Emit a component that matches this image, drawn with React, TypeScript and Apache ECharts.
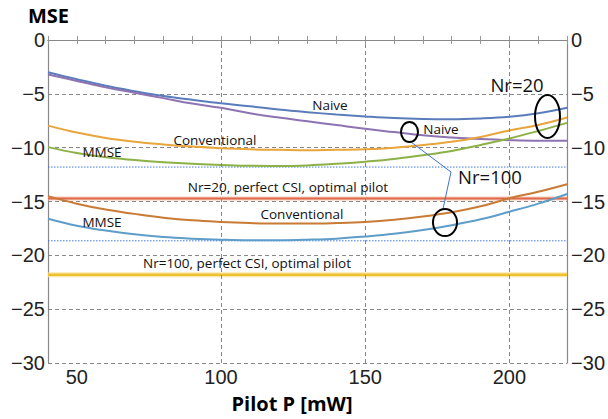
import React, { useEffect, useRef } from "react";
import * as echarts from "echarts";

// Pilot power grid [mW]
const pilotP = [40, 50, 60, 70, 80, 90, 100, 110, 120, 130, 140, 150, 160, 170, 180, 190, 200, 210, 220];

// MSE curves [dB]
const naiveNr20 = [-3.0, -3.65, -4.25, -4.75, -5.2, -5.55, -5.88, -6.15, -6.45, -6.7, -6.92, -7.1, -7.25, -7.33, -7.35, -7.28, -7.12, -6.8, -6.3];
const naiveNr100 = [-3.2, -3.8, -4.4, -4.9, -5.4, -5.9, -6.3, -6.8, -7.2, -7.55, -7.9, -8.25, -8.55, -8.85, -9.05, -9.2, -9.3, -9.35, -9.35];
const convNr20 = [-7.95, -8.6, -9.1, -9.45, -9.7, -9.9, -10.05, -10.15, -10.2, -10.25, -10.2, -10.15, -10.0, -9.75, -9.45, -9.0, -8.4, -7.9, -7.2];
const mmseNr20 = [-9.95, -10.5, -10.9, -11.15, -11.35, -11.5, -11.6, -11.68, -11.7, -11.65, -11.5, -11.3, -11.05, -10.7, -10.3, -9.75, -9.15, -8.45, -7.7];
const convNr100 = [-14.5, -15.2, -15.75, -16.15, -16.5, -16.75, -16.9, -17.0, -17.05, -17.05, -17.0, -16.9, -16.7, -16.4, -16.0, -15.45, -14.7, -14.1, -13.4];
const mmseNr100 = [-16.6, -17.25, -17.7, -18.05, -18.3, -18.45, -18.55, -18.6, -18.6, -18.55, -18.45, -18.25, -18.0, -17.65, -17.2, -16.65, -15.95, -15.2, -14.3];

// Constant reference levels
const mmseMinNr20 = -11.8;
const mmseMinNr100 = -18.65;
const perfectCsiNr20 = -14.72;
const perfectCsiNr100 = -21.8;

// Axis ticks
const xMin = 40;
const xMax = 220;
const xGrid = [100, 150, 200];
const yMin = -30;
const yMax = 0;

const fmtY = (v: number) => (v < 0 ? "\u2212" + Math.abs(v) : String(v));
const pts = (arr: number[]) => pilotP.map((x, i) => [x, arr[i]]);
const flat = (v: number) => [[xMin, v], [xMax, v]];

export default function App() {
  const ref = useRef<HTMLDivElement>(null);
  useEffect(() => {
    if (!ref.current) return;
    const chart = echarts.init(ref.current, undefined, { renderer: "svg" });
    const curve = (name: string, data: number[], color: string, width = 2) => ({
      name,
      type: "line",
      data: pts(data),
      smooth: 0.4,
      showSymbol: false,
      symbol: "none",
      lineStyle: { color, width },
      z: 3,
    });
    const level = (name: string, v: number, color: string, width: number, type: any = "solid", opacity = 1) => ({
      name,
      type: "line",
      data: flat(v),
      showSymbol: false,
      symbol: "none",
      lineStyle: { color, width, type, opacity },
      z: 2,
    });
    const annoFont = "'Open Sans', 'Noto Sans', sans-serif";
    const txt = (text: string, x: number, y: number, size = 13.5) => ({
      type: "text",
      x,
      y,
      style: { text, fill: "#111", font: `${size}px ${annoFont}`, textAlign: "center", textVerticalAlign: "middle" },
      z: 10,
    });
    const ell = (cx: number, cy: number, rx: number, ry: number) => ({
      type: "ellipse",
      shape: { cx, cy, rx, ry },
      style: { fill: "none", stroke: "#000", lineWidth: 2 },
      z: 10,
    });
    chart.setOption({
      animation: false,
      grid: { left: 48, right: 40, top: 40, bottom: 56, containLabel: false },
      xAxis: [
        {
          type: "value",
          min: xMin,
          max: xMax,
          interval: 10,
          position: "bottom",
          axisLine: { show: true, lineStyle: { color: "#888", width: 1.2 } },
          axisTick: { show: true, inside: true, length: 4, lineStyle: { color: "#999" } },
          axisLabel: {
            formatter: (v: number) => (v % 50 === 0 ? String(v) : ""),
            fontFamily: "'Liberation Sans', Arial, sans-serif",
            fontSize: 20,
            color: "#222",
            margin: 4,
          },
          splitLine: { show: false },
        },
        {
          type: "value",
          min: xMin,
          max: xMax,
          interval: 10,
          position: "top",
          axisLine: { show: true, lineStyle: { color: "#888", width: 1.2 } },
          axisTick: { show: true, inside: true, length: 4, lineStyle: { color: "#999" } },
          axisLabel: { show: false },
          splitLine: { show: false },
        },
      ],
      yAxis: [
        {
          type: "value",
          min: yMin,
          max: yMax,
          interval: 5,
          position: "left",
          axisLine: { show: true, lineStyle: { color: "#888", width: 1.2 } },
          axisTick: { show: false },
          axisLabel: {
            formatter: fmtY,
            fontFamily: "'Liberation Sans', Arial, sans-serif",
            fontSize: 20,
            color: "#222",
            margin: 3,
          },
          splitLine: { show: true, lineStyle: { color: "#888", type: [4, 3], width: 1 } },
        },
        {
          type: "value",
          min: yMin,
          max: yMax,
          interval: 5,
          position: "right",
          axisLine: { show: true, lineStyle: { color: "#888", width: 1.2 } },
          axisTick: { show: false },
          axisLabel: {
            formatter: fmtY,
            fontFamily: "'Liberation Sans', Arial, sans-serif",
            fontSize: 20,
            color: "#222",
            margin: 4,
          },
          splitLine: { show: false },
        },
      ],
      series: [
        {
          name: "grid",
          type: "line",
          data: [],
          silent: true,
          markLine: {
            silent: true,
            symbol: "none",
            label: { show: false },
            lineStyle: { color: "#888", type: [4, 3], width: 1 },
            data: xGrid.map((x) => ({ xAxis: x })),
          },
          z: 1,
        },
        level("MMSE min Nr=20", mmseMinNr20, "#3f78e0", 1, [1.5, 1.5]),
        level("MMSE min Nr=100", mmseMinNr100, "#3f78e0", 1, [1.5, 1.5]),
        level("perfect CSI Nr=20 halo", perfectCsiNr20, "#f2b7a0", 4, "solid", 0.7),
        level("perfect CSI Nr=20", perfectCsiNr20, "#e0694a", 2),
        level("perfect CSI Nr=100 halo", perfectCsiNr100, "#f8e39a", 5, "solid", 0.8),
        level("perfect CSI Nr=100", perfectCsiNr100, "#f0c030", 2.5),
        curve("Naive Nr=20", naiveNr20, "#5a7cbb"),
        curve("Naive Nr=100", naiveNr100, "#8e73b3"),
        curve("Conventional Nr=20", convNr20, "#e8a53c"),
        curve("MMSE Nr=20", mmseNr20, "#8cb146"),
        curve("Conventional Nr=100", convNr100, "#c97a34"),
        curve("MMSE Nr=100", mmseNr100, "#5e9dc9"),
      ],
      graphic: [
        {
          type: "text",
          x: 28,
          y: 15,
          style: { text: "MSE", fill: "#000", font: `bold 20px ${annoFont}`, textAlign: "left", textVerticalAlign: "middle" },
        },
        {
          type: "text",
          x: 292,
          y: 403,
          style: { text: "Pilot P [mW]", fill: "#000", font: `bold 20px ${annoFont}`, textAlign: "center", textVerticalAlign: "middle" },
        },
        txt("Naive", 330, 105),
        txt("Naive", 441, 129),
        txt("Conventional", 215, 140),
        txt("MMSE", 102, 152),
        txt("Nr=20, perfect CSI, optimal pilot", 288, 187),
        txt("Conventional", 302, 214),
        txt("MMSE", 102, 222),
        txt("Nr=100, perfect CSI, optimal pilot", 247, 263),
        txt("Nr=20", 517, 84, 18.5),
        txt("Nr=100", 490, 176, 18.5),
        ell(547.5, 116.5, 12.5, 21.5),
        ell(409.5, 132, 8.5, 10),
        ell(445, 222.5, 12, 13.5),
        {
          type: "polyline",
          shape: { points: [[411, 142], [451, 172], [443, 209]] },
          style: { stroke: "#3f6fd8", lineWidth: 1, fill: "none" },
          z: 9,
        },
      ],
    });
    return () => chart.dispose();
  }, []);
  return <div ref={ref} style={{ width: 608, height: 419, position: "fixed", left: 0, top: 0, background: "#fff" }} />;
}
